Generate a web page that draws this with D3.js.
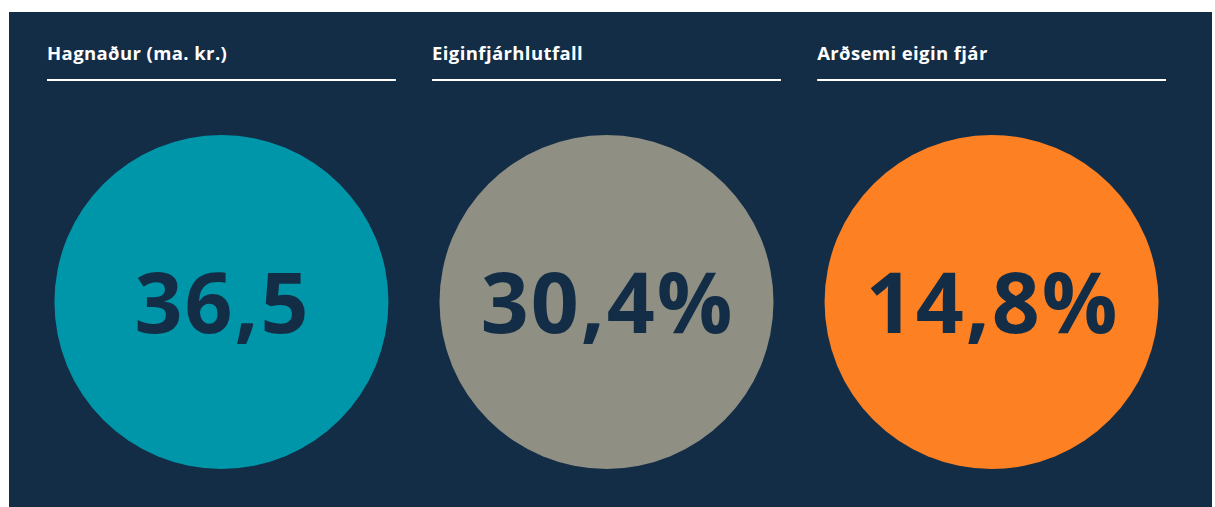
<!DOCTYPE html>
<html>
<head>
<meta charset="utf-8">
<script src="https://cdn.jsdelivr.net/npm/d3@7"></script>
<style>
  html, body { margin: 0; padding: 0; background: #ffffff; }
  svg { display: block; }
</style>
</head>
<body>
<div id="chart-container"></div>
<script>
const titles = ['Hagnaður (ma. kr.)', 'Eiginfjárhlutfall', 'Arðsemi eigin fjár'];
const values = [36.5, 30.4, 14.8];
const suffixes = ['', '%', '%'];
const colors = ['#0096a9', '#8f8f83', '#fd8023'];

const svgCanvas = {width: 1215, height: 507};
const panel = {left: 9, top: 12, right: 1212, bottom: 507};
const navy = '#132d46';

const isLocale = d3.formatLocale({decimal: ',', thousands: '.', grouping: [3], currency: ['', ' kr.']});
const fmt = isLocale.format('.1f');

const xScale = d3.scaleBand()
            .domain(titles)
            .range([47, 1166])
            .paddingInner(0.094)
            .paddingOuter(0)

const svg = d3.select('#chart-container')
        .append('svg')
        .attr('width', svgCanvas.width)
        .attr('height', svgCanvas.height)

svg.append('rect')
        .attr('x', panel.left)
        .attr('y', panel.top)
        .attr('width', panel.right - panel.left)
        .attr('height', panel.bottom - panel.top)
        .attr('fill', navy)

const cols = svg.selectAll('g.col')
        .data(titles)
        .enter()
        .append('g')
        .attr('class', 'col')
        .attr('transform', d => `translate(${xScale(d)},0)`)

// headings
cols.append('text')
        .text(d => d)
        .attr('x', 0)
        .attr('y', 60)
        .attr('fill', '#ffffff')
        .style('font-family', '"Open Sans", sans-serif')
        .style('font-weight', 700)
        .style('font-size', '18.5px')
        .style('letter-spacing', '0.4px')

cols.append('line')
        .attr('x1', 0)
        .attr('x2', xScale.bandwidth())
        .attr('y1', 80)
        .attr('y2', 80)
        .attr('stroke', '#ffffff')
        .attr('stroke-width', 2)

// circles
const cy = 302, r = 167;
cols.append('circle')
        .attr('cx', xScale.bandwidth() / 2)
        .attr('cy', cy)
        .attr('r', r)
        .attr('fill', (d, i) => colors[i])

cols.append('text')
        .text((d, i) => fmt(values[i]) + suffixes[i])
        .attr('x', xScale.bandwidth() / 2 + 1)
        .attr('y', cy + 31)
        .attr('text-anchor', 'middle')
        .attr('fill', navy)
        .style('font-family', '"Open Sans", sans-serif')
        .style('font-weight', 700)
        .style('font-size', '84px')
        .style('letter-spacing', '2px')
</script>
</body>
</html>
